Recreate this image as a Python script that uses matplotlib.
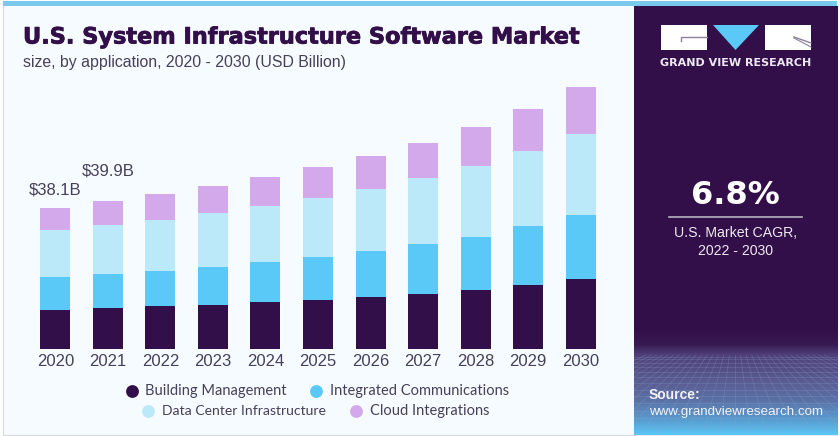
import numpy as np
import matplotlib
matplotlib.use("Agg")
import matplotlib.pyplot as plt
import matplotlib.patheffects as pe
from matplotlib.colors import LinearSegmentedColormap
from matplotlib.patches import Rectangle, Polygon

plt.rcParams["font.family"] = "Liberation Sans"

W, H = 840, 436

COLOR_DARK = "#330f4a"
COLOR_BLUE = "#5bc9f8"
COLOR_LIGHT = "#bce9fa"
COLOR_PURPLE = "#d3a9ec"
COLOR_CARD = "#f6fbff"
COLOR_TEXT = "#46405a"

years = ["2020", "2021", "2022", "2023", "2024", "2025", "2026", "2027", "2028", "2029", "2030"]
building = [10.4, 10.9, 11.5, 11.9, 12.5, 13.2, 14.1, 14.8, 15.9, 17.2, 18.8]
integrated = [8.9, 9.2, 9.5, 10.1, 10.8, 11.7, 12.4, 13.4, 14.4, 15.9, 17.3]
data_center = [12.8, 13.2, 13.9, 14.8, 15.2, 15.7, 16.7, 17.8, 19.2, 20.2, 22.0]
cloud = [6.0, 6.6, 7.0, 7.3, 7.8, 8.5, 8.9, 9.7, 10.4, 11.5, 12.6]
series_names = ["Building Management", "Integrated Communications",
                "Data Center Infrastructure", "Cloud Integrations"]
total_labels = {0: "$38.1B", 1: "$39.9B"}

fig = plt.figure(figsize=(W / 100, H / 100), dpi=100, facecolor="white")

# background layer, in pixel coordinates
bg = fig.add_axes([0, 0, 1, 1])
bg.set_xlim(0, W)
bg.set_ylim(H, 0)
bg.axis("off")

bg.add_patch(Rectangle((2.5, 2), 632, 433, fc=COLOR_CARD, ec="#d5d8e0", lw=0.8))
bg.add_patch(Rectangle((2.5, 1), 834, 5.5, fc="#79c9ec", ec="none"))
bg.add_patch(Rectangle((634, 6), 203.5, 429, fc=COLOR_DARK, ec="none"))

# gradient at the bottom of the side panel
cmap = LinearSegmentedColormap.from_list(
    "panel", [(0, COLOR_DARK), (0.14, "#381a52"), (0.24, "#4f3f78"), (0.48, "#5a5a90"),
              (0.67, "#5a70a5"), (0.86, "#5a9ccf"), (1, "#59c6f5")])
grad = np.linspace(0, 1, 120).reshape(-1, 1)
bg.imshow(grad, extent=(634, 837.5, 435, 330), cmap=cmap, aspect="auto", zorder=1)
bg.set_xlim(0, W)
bg.set_ylim(H, 0)

# lattice over the gradient
panel_clip = Rectangle((634, 350), 203.5, 85, transform=bg.transData)
for k in range(1, 15):
    yy = 355 + 80 * (k / 14) ** 1.5
    bg.plot([634, 837.5], [yy, yy], color="#8fa8d0", lw=0.5, alpha=0.3, zorder=2)
for xx in np.linspace(480, 990, 33):
    line, = bg.plot([735 + (xx - 735) * 0.35, xx], [355, 435], color="#8fa8d0", lw=0.5, alpha=0.3, zorder=2)
    line.set_clip_path(panel_clip)

# logo
bg.add_patch(Rectangle((661, 25), 46, 25, fc="white", ec="none", zorder=3))
bg.add_patch(Rectangle((765, 25), 46, 25, fc="white", ec="none", zorder=3))
bg.add_patch(Polygon([(713, 25), (759, 25), (735.5, 50)], fc=COLOR_BLUE, ec="none", zorder=3))
bg.plot([681, 681, 707], [41, 37.5, 37.5], color="#8d7f9c", lw=1, zorder=4)
bg.plot([794, 811], [37, 43], color="#8d7f9c", lw=1, zorder=4)
bg.plot([794, 811], [38, 47], color="#8d7f9c", lw=0.8, zorder=4)
bg.text(736, 63.5, "GRAND VIEW RESEARCH", color="#ece8f0", fontsize=8.05, fontweight="bold",
        family="DejaVu Sans", ha="center", va="center", zorder=4)

# side panel text
bg.text(735.5, 195, "6.8%", color="white", fontsize=23, fontweight="bold", family="DejaVu Sans",
        ha="center", va="center", zorder=4)
bg.plot([669, 802], [217, 217], color="#b9b2c2", lw=1.2, zorder=4)
bg.text(736, 232.5, "U.S. Market CAGR,", color="#ece8f0", fontsize=10.2, ha="center", va="center", zorder=4)
bg.text(736, 251, "2022 - 2030", color="#ece8f0", fontsize=10.2, ha="center", va="center", zorder=4)
bg.text(649, 395, "Source:", color="#f2f2f6", fontsize=10, fontweight="bold", ha="left", va="center", zorder=4)
bg.text(649, 412, "www.grandviewresearch.com", color="#f2f2f6", fontsize=9.6, ha="left", va="center", zorder=4)

# titles
bg.text(23, 37.5, "U.S. System Infrastructure Software Market", color=COLOR_DARK, fontsize=16.15,
        fontweight="bold", family="DejaVu Sans", ha="left", va="center", zorder=4,
        path_effects=[pe.withStroke(linewidth=0.6, foreground=COLOR_DARK)])
bg.text(23, 62, "size, by application, 2020 - 2030 (USD Billion)", color=COLOR_TEXT, fontsize=11.4,
        ha="left", va="center", zorder=4)

# chart
PX_PER_UNIT = 3.7
BASE_Y = 348.7
TOP_Y = 70
LEFT_X, RIGHT_X = 20, 620
SPACING = 52.54
CENTER0 = 55.3

ax = fig.add_axes([LEFT_X / W, 1 - BASE_Y / H, (RIGHT_X - LEFT_X) / W, (BASE_Y - TOP_Y) / H])
ax.patch.set_alpha(0)
ax.set_xlim((LEFT_X - CENTER0) / SPACING, (RIGHT_X - CENTER0) / SPACING)
ax.set_ylim(0, (BASE_Y - TOP_Y) / PX_PER_UNIT)
for s in ax.spines.values():
    s.set_visible(False)

x = np.arange(len(years))
bottom = np.zeros(len(years))
for vals, color in [(building, COLOR_DARK), (integrated, COLOR_BLUE),
                    (data_center, COLOR_LIGHT), (cloud, COLOR_PURPLE)]:
    ax.bar(x, vals, width=30 / SPACING, bottom=bottom, color=color)
    bottom = bottom + np.array(vals)

for i, label in total_labels.items():
    offset = 4.8 if i == 0 else 8.0
    ax.text(x[i], bottom[i] + offset, label, color=COLOR_TEXT, fontsize=12, ha="center", va="center")

ax.set_yticks([])
ax.set_xticks(x, years)
ax.tick_params(axis="x", length=0, pad=3.5, labelsize=12, labelcolor=COLOR_TEXT)

# legend, two centred rows
legend_rows = [(391, 131.5, 316, 0, 1), (411, 148, 356, 2, 3)]
legend_sizes = [10.5, 10.5, 10.05, 10.5]
colors = [COLOR_DARK, COLOR_BLUE, COLOR_LIGHT, COLOR_PURPLE]
for yy, x1, x2, a, b in legend_rows:
    for xx, idx in [(x1, a), (x2, b)]:
        bg.scatter([xx], [yy], s=85, color=colors[idx], linewidths=0, zorder=4)
        bg.text(xx + 13.5, yy, series_names[idx], color=COLOR_TEXT, fontsize=legend_sizes[idx], family="Lato",
                ha="left", va="center", zorder=4)

fig.savefig("out.png", dpi=100)
